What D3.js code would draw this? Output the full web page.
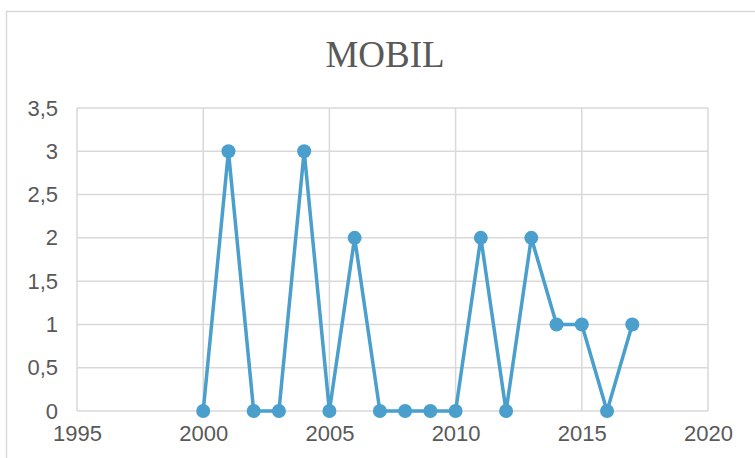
<!DOCTYPE html>
<html>
<head>
<meta charset="utf-8">
<script src="https://cdn.jsdelivr.net/npm/d3@7"></script>
<style>
  body { margin: 0; background: #fff; }
  svg { display: block; }
</style>
</head>
<body>
<svg id="chart" width="755" height="458"></svg>
<script>
// Data
var years = [2000, 2001, 2002, 2003, 2004, 2005, 2006, 2007, 2008, 2009, 2010, 2011, 2012, 2013, 2014, 2015, 2016, 2017];
var counts = [0, 3, 0, 0, 3, 0, 2, 0, 0, 0, 0, 2, 0, 2, 1, 1, 0, 1];
var xTicks = [1995, 2000, 2005, 2010, 2015, 2020];
var yTicks = [0, 0.5, 1, 1.5, 2, 2.5, 3, 3.5];
var title = "MOBIL";

var width = 755, height = 458;
var margin = { left: 77, right: 47, top: 108, bottom: 47 };
var textColor = "#595959";
var gridColor = "#d9d9d9";
var lineColor = "#4a9fcd";

var svg = d3.select("#chart");

// Outer chart frame
svg.append("rect")
  .attr("x", 6.5)
  .attr("y", 11.5)
  .attr("width", width)
  .attr("height", height)
  .attr("fill", "none")
  .attr("stroke", gridColor)
  .attr("stroke-width", 1.5);

var x = d3.scaleLinear()
  .domain([1995, 2020])
  .range([margin.left, width - margin.right]);
var y = d3.scaleLinear()
  .domain([0, 3.5])
  .range([height - margin.bottom, margin.top]);

// Title
svg.append("text")
  .attr("x", 385)
  .attr("y", 67)
  .attr("text-anchor", "middle")
  .attr("font-family", "'Liberation Serif', 'Times New Roman', serif")
  .attr("font-size", "37px")
  .attr("fill", textColor)
  .text(title);

// Gridlines
svg.append("g")
  .selectAll("line")
  .data(yTicks)
  .enter()
  .append("line")
  .attr("x1", x(1995))
  .attr("x2", x(2020))
  .attr("y1", function(d) { return y(d); })
  .attr("y2", function(d) { return y(d); })
  .attr("stroke", gridColor)
  .attr("stroke-width", 1.5);

svg.append("g")
  .selectAll("line")
  .data(xTicks)
  .enter()
  .append("line")
  .attr("x1", function(d) { return x(d); })
  .attr("x2", function(d) { return x(d); })
  .attr("y1", y(0))
  .attr("y2", y(3.5))
  .attr("stroke", gridColor)
  .attr("stroke-width", 1.5);

var fmt = function(d) { return String(d).replace(".", ","); };

// Axes, drawn through d3 axes and then styled
var xAxis = svg.append("g")
  .attr("transform", "translate(0," + y(0) + ")")
  .call(d3.axisBottom(x).tickValues(xTicks).tickFormat(d3.format("d")).tickSize(0).tickPadding(14));
var yAxis = svg.append("g")
  .attr("transform", "translate(" + x(1995) + ",0)")
  .call(d3.axisLeft(y).tickValues(yTicks).tickFormat(fmt).tickSize(0).tickPadding(19));

[xAxis, yAxis].forEach(function(ax) {
  ax.select(".domain").remove();
  ax.selectAll("text")
    .attr("font-family", "'Liberation Sans', Helvetica, Arial, sans-serif")
    .attr("font-size", "22px")
    .attr("fill", textColor);
});

// Line and markers
var pts = years.map(function(d, i) { return { year: d, val: counts[i] }; });

var line = d3.line()
  .x(function(d) { return x(d.year); })
  .y(function(d) { return y(d.val); });

svg.append("path")
  .datum(pts)
  .attr("d", line)
  .attr("fill", "none")
  .attr("stroke", lineColor)
  .attr("stroke-width", 3.5)
  .attr("stroke-linejoin", "round");

svg.append("g")
  .selectAll("circle")
  .data(pts)
  .enter()
  .append("circle")
  .attr("cx", function(d) { return x(d.year); })
  .attr("cy", function(d) { return y(d.val); })
  .attr("r", 7)
  .attr("fill", lineColor);
</script>
</body>
</html>
